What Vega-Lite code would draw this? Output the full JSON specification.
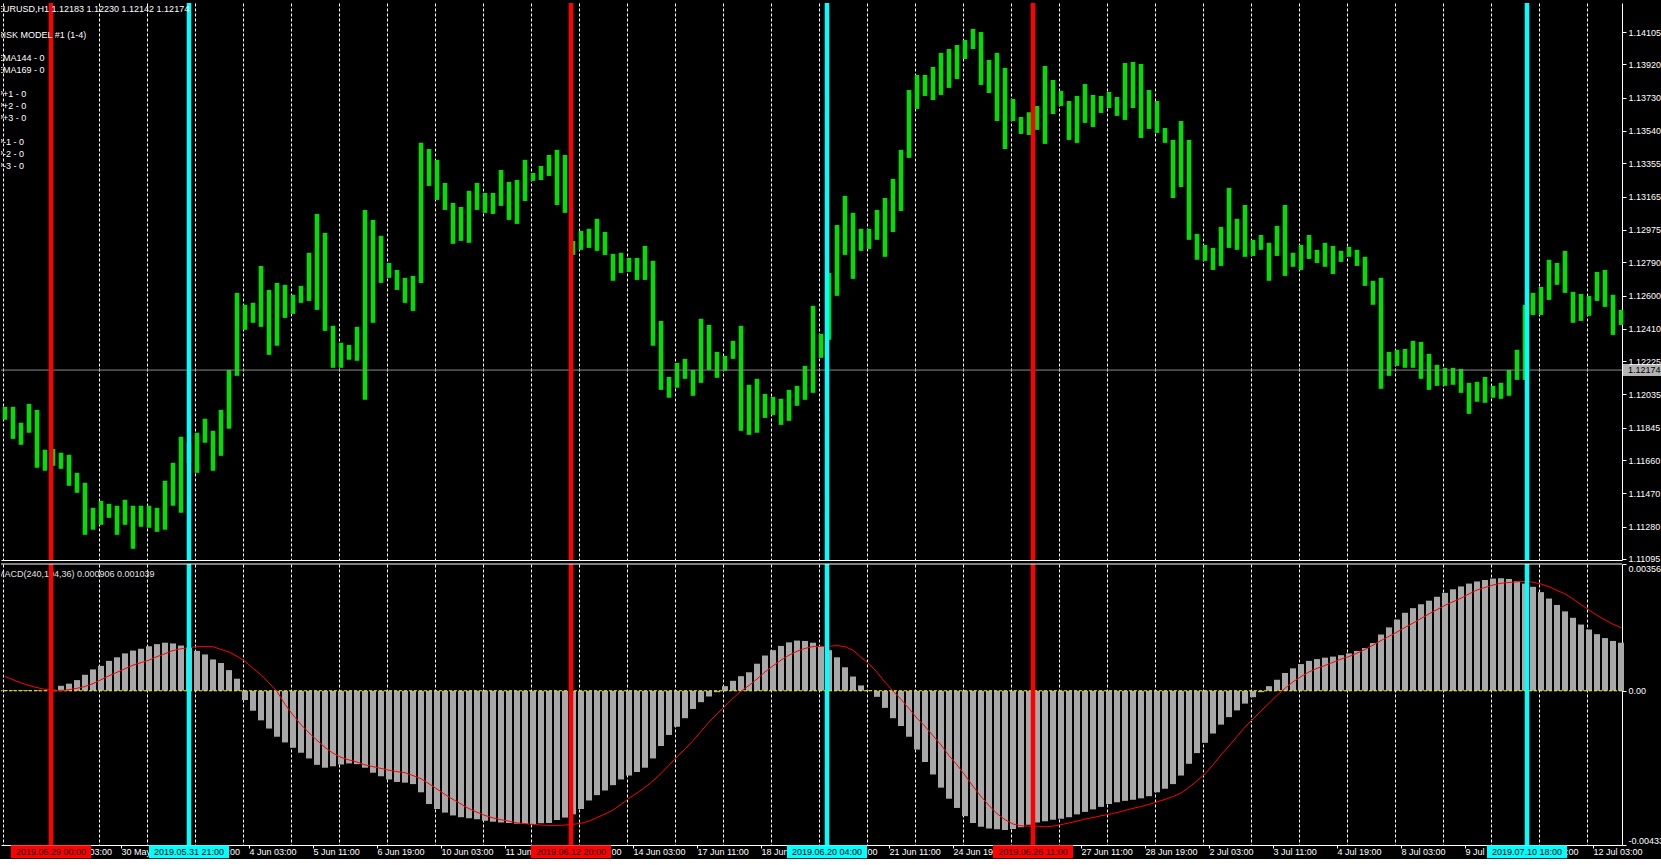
{
"$schema":"https://vega.github.io/schema/vega-lite/v6.json",
"background":"#000000",
"padding":0,
"spacing":-6,
"datasets":{
"bars":[
{"i":2,"lo":1.1189,"hi":1.11964,"m":0.00002,"s":0.0004},
{"i":6,"lo":1.11781,"hi":1.11964,"m":0.00002,"s":0.00031},
{"i":10,"lo":1.11747,"hi":1.11873,"m":0.00002,"s":0.00022},
{"i":14,"lo":1.11816,"hi":1.11981,"m":0.00002,"s":0.00015},
{"i":18,"lo":1.11616,"hi":1.11947,"m":0.00002,"s":0.00009},
{"i":22,"lo":1.11599,"hi":1.11719,"m":0.00001,"s":0.00004},
{"i":26,"lo":1.11627,"hi":1.11724,"m":0.00003,"s":0.00001},
{"i":30,"lo":1.1161,"hi":1.11702,"m":0.00014,"s":0.00001},
{"i":34,"lo":1.11513,"hi":1.1169,"m":0.0002,"s":0.00003},
{"i":38,"lo":1.11473,"hi":1.11587,"m":0.0003,"s":0.00007},
{"i":42,"lo":1.11233,"hi":1.1153,"m":0.00045,"s":0.00012},
{"i":46,"lo":1.11262,"hi":1.11387,"m":0.0006,"s":0.0002},
{"i":50,"lo":1.1129,"hi":1.11427,"m":0.0007,"s":0.00031},
{"i":54,"lo":1.1133,"hi":1.1141,"m":0.00084,"s":0.00042},
{"i":58,"lo":1.11233,"hi":1.11399,"m":0.00094,"s":0.00052},
{"i":62,"lo":1.1129,"hi":1.11433,"m":0.00105,"s":0.00062},
{"i":66,"lo":1.11153,"hi":1.11399,"m":0.00113,"s":0.00072},
{"i":70,"lo":1.11279,"hi":1.11399,"m":0.00118,"s":0.00079},
{"i":74,"lo":1.11273,"hi":1.11399,"m":0.00125,"s":0.00086},
{"i":78,"lo":1.1125,"hi":1.11387,"m":0.00131,"s":0.00096},
{"i":82,"lo":1.11262,"hi":1.11542,"m":0.00135,"s":0.00104},
{"i":86,"lo":1.11399,"hi":1.11644,"m":0.00133,"s":0.00113},
{"i":90,"lo":1.11359,"hi":1.11793,"m":0.00127,"s":0.00118},
{"i":94,"lo":1.11644,"hi":1.11759,"m":0.00121,"s":0.00121},
{"i":98,"lo":1.11587,"hi":1.11816,"m":0.00112,"s":0.00124},
{"i":102,"lo":1.11759,"hi":1.11896,"m":0.00102,"s":0.00124},
{"i":106,"lo":1.11599,"hi":1.11827,"m":0.00088,"s":0.00124},
{"i":110,"lo":1.11684,"hi":1.11947,"m":0.00078,"s":0.00116},
{"i":114,"lo":1.11839,"hi":1.12175,"m":0.00058,"s":0.00109},
{"i":118,"lo":1.12141,"hi":1.12615,"m":0.00034,"s":0.00097},
{"i":122,"lo":1.12404,"hi":1.12547,"m":-0.00026,"s":0.00083},
{"i":126,"lo":1.12444,"hi":1.12558,"m":-0.00056,"s":0.00063},
{"i":130,"lo":1.12421,"hi":1.12769,"m":-0.00083,"s":0.00045},
{"i":134,"lo":1.12261,"hi":1.12632,"m":-0.00106,"s":0.00022},
{"i":138,"lo":1.12313,"hi":1.12672,"m":-0.00129,"s":-0.00002},
{"i":142,"lo":1.12472,"hi":1.12661,"m":-0.00145,"s":-0.00038},
{"i":146,"lo":1.12495,"hi":1.12604,"m":-0.0016,"s":-0.00068},
{"i":150,"lo":1.12558,"hi":1.12655,"m":-0.00174,"s":-0.00095},
{"i":154,"lo":1.12569,"hi":1.12844,"m":-0.0019,"s":-0.00118},
{"i":158,"lo":1.12518,"hi":1.13066,"m":-0.00208,"s":-0.00139},
{"i":162,"lo":1.12398,"hi":1.12958,"m":-0.00216,"s":-0.00159},
{"i":166,"lo":1.12187,"hi":1.12427,"m":-0.00212,"s":-0.00175},
{"i":170,"lo":1.12187,"hi":1.1233,"m":-0.00207,"s":-0.00187},
{"i":174,"lo":1.12233,"hi":1.12318,"m":-0.00204,"s":-0.00194},
{"i":178,"lo":1.12227,"hi":1.12421,"m":-0.00206,"s":-0.002},
{"i":182,"lo":1.12004,"hi":1.13089,"m":-0.00216,"s":-0.00208},
{"i":186,"lo":1.12444,"hi":1.13032,"m":-0.0023,"s":-0.00213},
{"i":190,"lo":1.12672,"hi":1.12941,"m":-0.0024,"s":-0.00218},
{"i":194,"lo":1.12701,"hi":1.12786,"m":-0.00249,"s":-0.00223},
{"i":198,"lo":1.12632,"hi":1.12746,"m":-0.00256,"s":-0.00227},
{"i":202,"lo":1.12558,"hi":1.12701,"m":-0.00258,"s":-0.0023},
{"i":206,"lo":1.12512,"hi":1.12712,"m":-0.00262,"s":-0.00238},
{"i":210,"lo":1.12672,"hi":1.13472,"m":-0.00285,"s":-0.00247},
{"i":214,"lo":1.13226,"hi":1.13437,"m":-0.00318,"s":-0.00261},
{"i":218,"lo":1.13146,"hi":1.13375,"m":-0.00332,"s":-0.00276},
{"i":222,"lo":1.13089,"hi":1.13243,"m":-0.00342,"s":-0.00291},
{"i":226,"lo":1.12895,"hi":1.13129,"m":-0.0035,"s":-0.00305},
{"i":230,"lo":1.12912,"hi":1.13106,"m":-0.00355,"s":-0.00318},
{"i":234,"lo":1.12901,"hi":1.13198,"m":-0.00358,"s":-0.00331},
{"i":238,"lo":1.13089,"hi":1.13243,"m":-0.00361,"s":-0.00341},
{"i":242,"lo":1.13072,"hi":1.13186,"m":-0.00365,"s":-0.0035},
{"i":246,"lo":1.13066,"hi":1.13186,"m":-0.00368,"s":-0.00357},
{"i":250,"lo":1.13112,"hi":1.13317,"m":-0.0037,"s":-0.00362},
{"i":254,"lo":1.13032,"hi":1.13249,"m":-0.00371,"s":-0.00366},
{"i":258,"lo":1.13009,"hi":1.1326,"m":-0.00373,"s":-0.00371},
{"i":262,"lo":1.1314,"hi":1.13375,"m":-0.00374,"s":-0.00373},
{"i":266,"lo":1.13255,"hi":1.133,"m":-0.00374,"s":-0.00375},
{"i":270,"lo":1.1326,"hi":1.1334,"m":-0.00372,"s":-0.00377},
{"i":274,"lo":1.13283,"hi":1.13403,"m":-0.00371,"s":-0.00378},
{"i":278,"lo":1.13117,"hi":1.13432,"m":-0.00363,"s":-0.00378},
{"i":282,"lo":1.13072,"hi":1.13403,"m":-0.00356,"s":-0.00377},
{"i":286,"lo":1.12832,"hi":1.12912,"m":-0.00347,"s":-0.00375},
{"i":290,"lo":1.12861,"hi":1.12969,"m":-0.00332,"s":-0.00372},
{"i":294,"lo":1.12872,"hi":1.12981,"m":-0.00308,"s":-0.00366},
{"i":298,"lo":1.12855,"hi":1.13038,"m":-0.00293,"s":-0.00356},
{"i":302,"lo":1.12832,"hi":1.12963,"m":-0.0028,"s":-0.00346},
{"i":306,"lo":1.12684,"hi":1.12838,"m":-0.00265,"s":-0.00335},
{"i":310,"lo":1.12729,"hi":1.12844,"m":-0.00249,"s":-0.00319},
{"i":314,"lo":1.12735,"hi":1.12815,"m":-0.00238,"s":-0.00302},
{"i":318,"lo":1.12689,"hi":1.12815,"m":-0.00228,"s":-0.00287},
{"i":322,"lo":1.12689,"hi":1.12883,"m":-0.00216,"s":-0.00271},
{"i":326,"lo":1.12313,"hi":1.12798,"m":-0.0019,"s":-0.00253},
{"i":330,"lo":1.12061,"hi":1.12455,"m":-0.00155,"s":-0.00232},
{"i":334,"lo":1.12016,"hi":1.12135,"m":-0.00124,"s":-0.00209},
{"i":338,"lo":1.12073,"hi":1.12215,"m":-0.00101,"s":-0.00185},
{"i":342,"lo":1.12124,"hi":1.12238,"m":-0.00077,"s":-0.00164},
{"i":346,"lo":1.12027,"hi":1.12175,"m":-0.00051,"s":-0.0014},
{"i":350,"lo":1.12101,"hi":1.12467,"m":-0.00032,"s":-0.00114},
{"i":354,"lo":1.12175,"hi":1.12432,"m":-0.00016,"s":-0.00088},
{"i":358,"lo":1.1213,"hi":1.12278,"m":-0.00004,"s":-0.00065},
{"i":362,"lo":1.1217,"hi":1.12255,"m":0.00013,"s":-0.00043},
{"i":366,"lo":1.12238,"hi":1.12341,"m":0.00028,"s":-0.00021},
{"i":370,"lo":1.11827,"hi":1.12427,"m":0.00041,"s":-0.00001},
{"i":374,"lo":1.11804,"hi":1.1209,"m":0.00052,"s":0.00015},
{"i":378,"lo":1.11816,"hi":1.12124,"m":0.00076,"s":0.00033},
{"i":382,"lo":1.11901,"hi":1.12038,"m":0.00099,"s":0.00053},
{"i":386,"lo":1.11918,"hi":1.12021,"m":0.00114,"s":0.0007},
{"i":390,"lo":1.11861,"hi":1.1201,"m":0.00126,"s":0.00086},
{"i":394,"lo":1.11884,"hi":1.12061,"m":0.00136,"s":0.001},
{"i":398,"lo":1.1197,"hi":1.12084,"m":0.00141,"s":0.00111},
{"i":402,"lo":1.12004,"hi":1.12198,"m":0.0014,"s":0.00119},
{"i":406,"lo":1.12044,"hi":1.12541,"m":0.00135,"s":0.00124},
{"i":410,"lo":1.12244,"hi":1.12381,"m":0.00125,"s":0.00125},
{"i":414,"lo":1.12347,"hi":1.12729,"m":0.00114,"s":0.00125},
{"i":418,"lo":1.12598,"hi":1.13003,"m":0.00094,"s":0.00127},
{"i":422,"lo":1.12832,"hi":1.13169,"m":0.00066,"s":0.00124},
{"i":426,"lo":1.12695,"hi":1.13072,"m":0.0004,"s":0.00114},
{"i":430,"lo":1.12855,"hi":1.12981,"m":0.00015,"s":0.00094},
{"i":434,"lo":1.12866,"hi":1.12981,"m":0.00002,"s":0.00076},
{"i":438,"lo":1.12918,"hi":1.13089,"m":-0.00017,"s":0.00052},
{"i":442,"lo":1.12821,"hi":1.13157,"m":-0.00048,"s":0.00024},
{"i":446,"lo":1.12963,"hi":1.13266,"m":-0.00077,"s":-0.00001},
{"i":450,"lo":1.13083,"hi":1.13432,"m":-0.00099,"s":-0.00024},
{"i":454,"lo":1.13386,"hi":1.13774,"m":-0.00129,"s":-0.0005},
{"i":458,"lo":1.13666,"hi":1.1386,"m":-0.00165,"s":-0.00077},
{"i":462,"lo":1.1374,"hi":1.1386,"m":-0.002,"s":-0.001},
{"i":466,"lo":1.13717,"hi":1.13906,"m":-0.00235,"s":-0.00126},
{"i":470,"lo":1.13746,"hi":1.13986,"m":-0.00272,"s":-0.00152},
{"i":474,"lo":1.13786,"hi":1.14008,"m":-0.00303,"s":-0.00182},
{"i":478,"lo":1.13837,"hi":1.14031,"m":-0.00329,"s":-0.00208},
{"i":482,"lo":1.13951,"hi":1.1406,"m":-0.00352,"s":-0.00237},
{"i":486,"lo":1.14008,"hi":1.14123,"m":-0.00371,"s":-0.00268},
{"i":490,"lo":1.13803,"hi":1.14105,"m":-0.00382,"s":-0.00297},
{"i":494,"lo":1.13757,"hi":1.13946,"m":-0.00387,"s":-0.00322},
{"i":498,"lo":1.13597,"hi":1.13986,"m":-0.00389,"s":-0.00345},
{"i":502,"lo":1.13437,"hi":1.139,"m":-0.00391,"s":-0.00362},
{"i":506,"lo":1.13597,"hi":1.13723,"m":-0.00388,"s":-0.00374},
{"i":510,"lo":1.13523,"hi":1.1362,"m":-0.00383,"s":-0.00379},
{"i":514,"lo":1.13517,"hi":1.13647,"m":-0.00376,"s":-0.0038},
{"i":518,"lo":1.13546,"hi":1.13683,"m":-0.0037,"s":-0.0038},
{"i":522,"lo":1.13466,"hi":1.13911,"m":-0.00366,"s":-0.00382},
{"i":526,"lo":1.13637,"hi":1.13831,"m":-0.00362,"s":-0.0038},
{"i":530,"lo":1.13683,"hi":1.13769,"m":-0.00359,"s":-0.00376},
{"i":534,"lo":1.13489,"hi":1.13711,"m":-0.00355,"s":-0.00371},
{"i":538,"lo":1.13472,"hi":1.1374,"m":-0.00347,"s":-0.00366},
{"i":542,"lo":1.13586,"hi":1.13808,"m":-0.0034,"s":-0.0036},
{"i":546,"lo":1.13563,"hi":1.13746,"m":-0.00333,"s":-0.00356},
{"i":550,"lo":1.13643,"hi":1.1374,"m":-0.00326,"s":-0.00351},
{"i":554,"lo":1.13671,"hi":1.13763,"m":-0.00318,"s":-0.00347},
{"i":558,"lo":1.13626,"hi":1.13734,"m":-0.00313,"s":-0.00342},
{"i":562,"lo":1.13603,"hi":1.13928,"m":-0.00309,"s":-0.00336},
{"i":566,"lo":1.13671,"hi":1.13934,"m":-0.00306,"s":-0.0033},
{"i":570,"lo":1.135,"hi":1.13923,"m":-0.00302,"s":-0.00325},
{"i":574,"lo":1.13552,"hi":1.13774,"m":-0.00296,"s":-0.00319},
{"i":578,"lo":1.13529,"hi":1.13711,"m":-0.00285,"s":-0.00312},
{"i":582,"lo":1.13472,"hi":1.13557,"m":-0.00275,"s":-0.00305},
{"i":586,"lo":1.13157,"hi":1.13489,"m":-0.00262,"s":-0.00297},
{"i":590,"lo":1.1322,"hi":1.13597,"m":-0.00238,"s":-0.00287},
{"i":594,"lo":1.12918,"hi":1.13489,"m":-0.00205,"s":-0.00271},
{"i":598,"lo":1.12804,"hi":1.12952,"m":-0.00175,"s":-0.00253},
{"i":602,"lo":1.12798,"hi":1.12889,"m":-0.00146,"s":-0.00233},
{"i":606,"lo":1.12746,"hi":1.12872,"m":-0.0012,"s":-0.00208},
{"i":610,"lo":1.12769,"hi":1.12992,"m":-0.00095,"s":-0.0018},
{"i":614,"lo":1.12872,"hi":1.13215,"m":-0.00074,"s":-0.00155},
{"i":618,"lo":1.12861,"hi":1.13038,"m":-0.00055,"s":-0.00128},
{"i":622,"lo":1.12821,"hi":1.13117,"m":-0.00036,"s":-0.00102},
{"i":626,"lo":1.12826,"hi":1.12918,"m":-0.00018,"s":-0.00079},
{"i":630,"lo":1.12861,"hi":1.12946,"m":-0.00004,"s":-0.00057},
{"i":634,"lo":1.12684,"hi":1.12901,"m":0.00013,"s":-0.00035},
{"i":638,"lo":1.12826,"hi":1.12998,"m":0.00031,"s":-0.00013},
{"i":642,"lo":1.12712,"hi":1.13117,"m":0.0005,"s":0.00007},
{"i":646,"lo":1.12764,"hi":1.12844,"m":0.00063,"s":0.00025},
{"i":650,"lo":1.12746,"hi":1.12889,"m":0.00075,"s":0.0004},
{"i":654,"lo":1.12809,"hi":1.12946,"m":0.00084,"s":0.00053},
{"i":658,"lo":1.12786,"hi":1.12861,"m":0.00089,"s":0.00063},
{"i":662,"lo":1.12764,"hi":1.12901,"m":0.00093,"s":0.00071},
{"i":666,"lo":1.12723,"hi":1.12883,"m":0.00096,"s":0.0008},
{"i":670,"lo":1.12792,"hi":1.12855,"m":0.001,"s":0.00089},
{"i":674,"lo":1.12821,"hi":1.12878,"m":0.00105,"s":0.00096},
{"i":678,"lo":1.12769,"hi":1.12861,"m":0.00112,"s":0.00106},
{"i":682,"lo":1.12655,"hi":1.12821,"m":0.0012,"s":0.00116},
{"i":686,"lo":1.12547,"hi":1.12684,"m":0.00134,"s":0.00128},
{"i":690,"lo":1.12067,"hi":1.12701,"m":0.00158,"s":0.00141},
{"i":694,"lo":1.12141,"hi":1.12278,"m":0.00178,"s":0.00153},
{"i":698,"lo":1.12198,"hi":1.1229,"m":0.002,"s":0.00165},
{"i":702,"lo":1.12187,"hi":1.12295,"m":0.00219,"s":0.00178},
{"i":706,"lo":1.12187,"hi":1.12341,"m":0.00232,"s":0.0019},
{"i":710,"lo":1.12124,"hi":1.12335,"m":0.00243,"s":0.00203},
{"i":714,"lo":1.12061,"hi":1.12267,"m":0.00253,"s":0.00216},
{"i":718,"lo":1.12084,"hi":1.12204,"m":0.00264,"s":0.00228},
{"i":722,"lo":1.12084,"hi":1.12187,"m":0.00275,"s":0.0024},
{"i":726,"lo":1.1209,"hi":1.12187,"m":0.00285,"s":0.0025},
{"i":730,"lo":1.12044,"hi":1.12181,"m":0.00293,"s":0.0026},
{"i":734,"lo":1.11924,"hi":1.12101,"m":0.00301,"s":0.00272},
{"i":738,"lo":1.11993,"hi":1.12107,"m":0.00307,"s":0.00283},
{"i":742,"lo":1.11987,"hi":1.12135,"m":0.00311,"s":0.0029},
{"i":746,"lo":1.12016,"hi":1.12084,"m":0.00315,"s":0.00297},
{"i":750,"lo":1.1201,"hi":1.12101,"m":0.00316,"s":0.00302},
{"i":754,"lo":1.12027,"hi":1.12175,"m":0.00314,"s":0.00304},
{"i":758,"lo":1.12118,"hi":1.1229,"m":0.00308,"s":0.00306},
{"i":762,"lo":1.12118,"hi":1.12547,"m":0.00301,"s":0.00307},
{"i":766,"lo":1.12489,"hi":1.12615,"m":0.00292,"s":0.00305},
{"i":770,"lo":1.12489,"hi":1.12649,"m":0.00277,"s":0.003},
{"i":774,"lo":1.12575,"hi":1.12804,"m":0.00259,"s":0.00292},
{"i":778,"lo":1.12661,"hi":1.12786,"m":0.00241,"s":0.00282},
{"i":782,"lo":1.12615,"hi":1.12855,"m":0.00223,"s":0.00272},
{"i":786,"lo":1.12444,"hi":1.12621,"m":0.00205,"s":0.00258},
{"i":790,"lo":1.12455,"hi":1.12609,"m":0.00186,"s":0.00242},
{"i":794,"lo":1.12484,"hi":1.12598,"m":0.00172,"s":0.00227},
{"i":798,"lo":1.12569,"hi":1.12735,"m":0.00159,"s":0.00212},
{"i":802,"lo":1.12535,"hi":1.12746,"m":0.00148,"s":0.00199},
{"i":806,"lo":1.12375,"hi":1.12604,"m":0.0014,"s":0.00187},
{"i":810,"lo":1.12432,"hi":1.12518,"m":0.00135,"s":0.00177}
],
"ev":[
{"i":25,"t":"sell","lab":"2019.05.29 00:00"},
{"i":94,"t":"buy","lab":"2019.05.31 21:00"},
{"i":285,"t":"sell","lab":"2019.06.12 20:00"},
{"i":413,"t":"buy","lab":"2019.06.20 04:00"},
{"i":516,"t":"sell","lab":"2019.06.26 11:00"},
{"i":763,"t":"buy","lab":"2019.07.10 18:00"}
]
},
"vconcat":[
{
"width":1621,"height":557,
"layer":[
{"data":{"name":"bars"},
 "mark":{"type":"rule","color":"#00e000","strokeWidth":4.5},
 "encoding":{
  "x":{"field":"i","type":"quantitative","scale":{"domain":[0,810.5],"nice":false,"zero":false},
   "axis":{"values":[1,25,49,73,97,121,145,169,193,217,241,265,289,313,337,361,385,409,433,457,481,505,529,553,577,601,625,649,673,697,721,745,769,793],
    "tickCount":500,"grid":true,"gridColor":"#ffffff","gridDash":[3,2],"gridWidth":1,"labels":false,"ticks":false,"domain":true,"domainColor":"#ffffff","title":null,"minExtent":0,"maxExtent":0,"offset":0}},
  "y":{"field":"lo","type":"quantitative","scale":{"domain":[1.11089,1.14271],"nice":false,"zero":false},
   "axis":{"orient":"right","values":[1.14105,1.1392,1.1373,1.1354,1.13355,1.13165,1.12975,1.1279,1.126,1.1241,1.12225,1.12035,1.11845,1.1166,1.1147,1.1128,1.11095],
    "tickCount":500,"format":".5f","grid":false,"tickColor":"#ffffff","tickSize":4,"labelColor":"#ffffff","labelFont":"Liberation Sans","labelFontSize":9,"labelPadding":2,"labelFlush":false,"labelOverlap":false,"domainColor":"#ffffff","title":null}},
  "y2":{"field":"hi"}}},
{"data":{"values":[{}]},
 "mark":{"type":"rule","color":"#8a8a8a","strokeWidth":1},
 "encoding":{"y":{"datum":1.12174}}},
{"data":{"name":"ev"},
 "mark":{"type":"rule","strokeWidth":4.5},
 "encoding":{"x":{"field":"i","type":"quantitative"},
  "color":{"field":"t","type":"nominal","scale":{"domain":["sell","buy"],"range":["#ff0000","#00ffff"]},"legend":null}}},
{"data":{"values":[{}]},"mark":{"type":"text","clip":true,"dx":-4,"dy":6,"text":"EURUSD,H1  1.12183 1.12230 1.12142 1.12174"},"encoding":{"x":{"datum":0},"y":{"datum":1.14271}}},
{"data":{"values":[{}]},"mark":{"type":"text","clip":true,"dx":-4,"dy":32,"text":"RISK MODEL #1 (1-4)"},"encoding":{"x":{"datum":0},"y":{"datum":1.14271}}},
{"data":{"values":[{}]},"mark":{"type":"text","clip":true,"dx":-4,"dy":55,"text":"EMA144 - 0"},"encoding":{"x":{"datum":0},"y":{"datum":1.14271}}},
{"data":{"values":[{}]},"mark":{"type":"text","clip":true,"dx":-4,"dy":67,"text":"EMA169 - 0"},"encoding":{"x":{"datum":0},"y":{"datum":1.14271}}},
{"data":{"values":[{}]},"mark":{"type":"text","clip":true,"dx":-4,"dy":91,"text":"P+1 - 0"},"encoding":{"x":{"datum":0},"y":{"datum":1.14271}}},
{"data":{"values":[{}]},"mark":{"type":"text","clip":true,"dx":-4,"dy":103,"text":"P+2 - 0"},"encoding":{"x":{"datum":0},"y":{"datum":1.14271}}},
{"data":{"values":[{}]},"mark":{"type":"text","clip":true,"dx":-4,"dy":115,"text":"P+3 - 0"},"encoding":{"x":{"datum":0},"y":{"datum":1.14271}}},
{"data":{"values":[{}]},"mark":{"type":"text","clip":true,"dx":-4,"dy":139,"text":"P-1 - 0"},"encoding":{"x":{"datum":0},"y":{"datum":1.14271}}},
{"data":{"values":[{}]},"mark":{"type":"text","clip":true,"dx":-4,"dy":151,"text":"P-2 - 0"},"encoding":{"x":{"datum":0},"y":{"datum":1.14271}}},
{"data":{"values":[{}]},"mark":{"type":"text","clip":true,"dx":-4,"dy":163,"text":"P-3 - 0"},"encoding":{"x":{"datum":0},"y":{"datum":1.14271}}},
{"data":{"values":[{}]},
 "mark":{"type":"tick","orient":"horizontal","color":"#ffffff","size":39,"thickness":12,"clip":false},
 "encoding":{"x":{"datum":820.75},"y":{"datum":1.12174}}},
{"data":{"values":[{}]},
 "mark":{"type":"text","text":"1.12174","color":"#000000","clip":false},
 "encoding":{"x":{"datum":813.5},"y":{"datum":1.12174}}}
]},
{
"width":1621,"height":281,
"layer":[
{"data":{"name":"bars"},
 "mark":{"type":"rule","color":"#a8a8a8","strokeWidth":6},
 "encoding":{
  "x":{"field":"i","type":"quantitative","scale":{"domain":[0,810.5],"nice":false,"zero":false},
   "axis":{"values":[1,25,28,49,60,73,92,97,121,124,145,156,169,188,193,217,220,241,252,265,284,289,313,316,337,348,361,380,385,409,412,433,444,457,476,481,505,508,529,540,553,572,577,601,604,625,636,649,668,673,697,700,721,732,745,764,769,793,796],
    "tickCount":500,
    "grid":true,"gridColor":"#ffffff","gridDash":[3,2],"gridWidth":1,
    "gridOpacity":{"condition":{"test":"(datum.value - 1) % 24 === 0","value":1},"value":0},
    "ticks":true,"tickColor":"#ffffff","tickSize":3,
    "tickOpacity":{"condition":{"test":"(datum.value - 28) % 32 === 0","value":1},"value":0},
    "labelExpr":"(datum.value - 28) % 32 === 0 ? ['29 May 03:00','30 May 11:00','31 May 19:00','4 Jun 03:00','5 Jun 11:00','6 Jun 19:00','10 Jun 03:00','11 Jun 11:00','12 Jun 19:00','14 Jun 03:00','17 Jun 11:00','18 Jun 19:00','20 Jun 03:00','21 Jun 11:00','24 Jun 19:00','26 Jun 03:00','27 Jun 11:00','28 Jun 19:00','2 Jul 03:00','3 Jul 11:00','4 Jul 19:00','8 Jul 03:00','9 Jul 11:00','10 Jul 19:00','12 Jul 03:00'][(datum.value - 28) / 32] : ''",
    "labelAlign":"left","labelDx":-2,"labelColor":"#ffffff","labelFont":"Liberation Sans","labelFontSize":9,"labelPadding":-1,"labelOverlap":false,"labelFlush":false,"labelBound":false,
    "domain":true,"domainColor":"#ffffff","title":null}},
  "y":{"field":"m","type":"quantitative","scale":{"domain":[-0.00433,0.00356],"nice":false,"zero":false},
   "axis":{"orient":"right","values":[0.00356,0,-0.00433],"tickCount":500,
    "labelExpr":"datum.value === 0 ? '0.00' : (datum.value > 0 ? '0.00356' : '-0.00433')",
    "labelFlush":true,"grid":false,"tickColor":"#ffffff","tickSize":4,"labelColor":"#ffffff","labelFont":"Liberation Sans","labelFontSize":9,"labelPadding":2,"domainColor":"#ffffff","title":null}},
  "y2":{"datum":0}}},
{"data":{"values":[{}]},
 "mark":{"type":"rule","color":"#ffff00","strokeDash":[3,2],"strokeWidth":1},
 "encoding":{"y":{"datum":0}}},
{"data":{"name":"bars"},
 "mark":{"type":"line","color":"#ff0000","strokeWidth":1},
 "encoding":{"x":{"field":"i","type":"quantitative"},"y":{"field":"s","type":"quantitative"}}},
{"data":{"values":[{}]},
 "mark":{"type":"text","clip":true,"text":"MACD(240,104,36) 0.000906 0.001039","dx":-4,"dy":10,"color":"#e0e0e0"},
 "encoding":{"x":{"datum":0},"y":{"datum":0.00356}}},
{"data":{"name":"ev"},
 "mark":{"type":"rule","strokeWidth":4.5},
 "encoding":{"x":{"field":"i","type":"quantitative"},
  "color":{"field":"t","type":"nominal","scale":{"domain":["sell","buy"],"range":["#ff0000","#00ffff"]},"legend":null}}},
{"data":{"name":"ev"},
 "mark":{"type":"tick","orient":"horizontal","size":80,"thickness":13,"clip":false,"opacity":1},
 "encoding":{"x":{"field":"i","type":"quantitative"},"y":{"datum":-0.00452},
  "color":{"field":"t","type":"nominal","scale":{"domain":["sell","buy"],"range":["#ff0000","#00ffff"]},"legend":null}}},
{"data":{"name":"ev"},
 "mark":{"type":"text","color":"#000000","align":"center","clip":false},
 "encoding":{"x":{"field":"i","type":"quantitative"},"y":{"datum":-0.00452},"text":{"field":"lab"}}},
{"data":{"values":[{}]},
 "mark":{"type":"rule","color":"#ffffff","strokeWidth":1},
 "encoding":{"y":{"datum":0.00356}}}
]}
],
"config":{"view":{"stroke":null},"axis":{"labelFont":"Liberation Sans"},
 "text":{"font":"Liberation Sans","fontSize":9,"color":"#ffffff","align":"left","baseline":"middle"}}
}
